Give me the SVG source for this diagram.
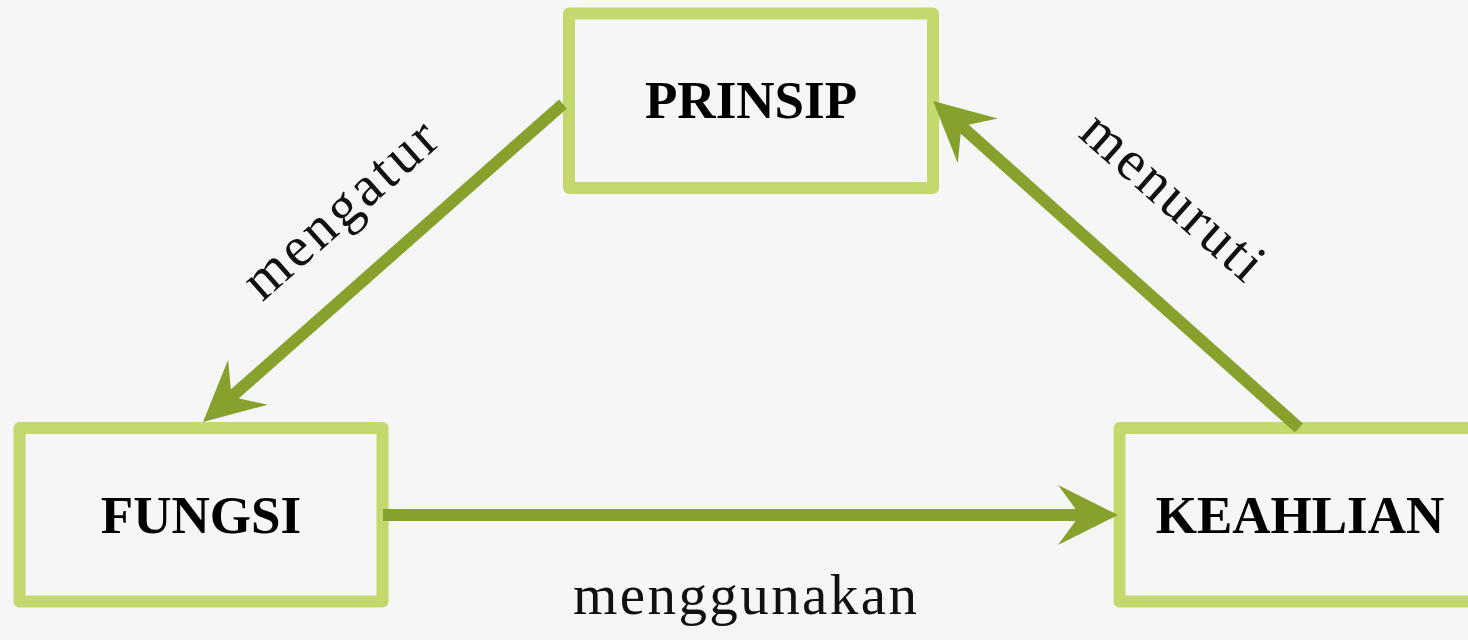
<svg xmlns="http://www.w3.org/2000/svg" width="1468" height="640" viewBox="0 0 1468 640">
  <style>
    .box { fill: none; stroke: #c3d86d; stroke-width: 12; stroke-linejoin: round; }
    .title { font-family: "Liberation Serif", "Times New Roman", serif; font-weight: bold; font-size: 53px; fill: #000; text-anchor: middle; }
    .label { font-family: "Liberation Serif", "Times New Roman", serif; font-size: 57px; fill: #111; text-anchor: middle; }
    .edge { fill: none; stroke: #86a12c; stroke-width: 12; stroke-linecap: butt; marker-end: url(#head); }
  </style>
  <defs>
    <!-- notched arrowhead; refX sits at the notch so the shaft ends inside the head -->
    <marker id="head" viewBox="0 -32 62 64" refX="22" refY="0" markerWidth="62" markerHeight="64" markerUnits="userSpaceOnUse" orient="auto" overflow="visible">
      <path d="M0,-30 L60,0 L0,30 L22,0 Z" fill="#86a12c"/>
    </marker>
  </defs>

  <rect width="1468" height="640" fill="#f6f6f6"/>

  <g id="node-prinsip">
    <rect class="box" x="569" y="13.5" width="364" height="174.5"/>
    <text class="title" x="751" y="118">PRINSIP</text>
  </g>

  <g id="node-fungsi">
    <rect class="box" x="19.5" y="428" width="363" height="173.5"/>
    <text class="title" x="201" y="533">FUNGSI</text>
  </g>

  <g id="node-keahlian">
    <rect class="box" x="1119.5" y="428" width="363" height="173.5"/>
    <text class="title" x="1300" y="533">KEAHLIAN</text>
  </g>

  <g id="connectors">
    <!-- PRINSIP to FUNGSI -->
    <line class="edge" x1="563" y1="104" x2="231.5" y2="396.8"/>
    <!-- FUNGSI to KEAHLIAN -->
    <line class="edge" x1="383" y1="515" x2="1080" y2="515"/>
    <!-- KEAHLIAN to PRINSIP -->
    <line class="edge" x1="1299" y1="428" x2="961.4" y2="126.3"/>

    <text class="label" x="352" y="223" transform="rotate(-41.5 352 223)" textLength="240" lengthAdjust="spacing">mengatur</text>
    <text class="label" x="1161" y="210" transform="rotate(41.5 1161 210)" textLength="224" lengthAdjust="spacing">menuruti</text>
    <text class="label" x="745" y="614" textLength="344" lengthAdjust="spacing">menggunakan</text>
  </g>
</svg>
